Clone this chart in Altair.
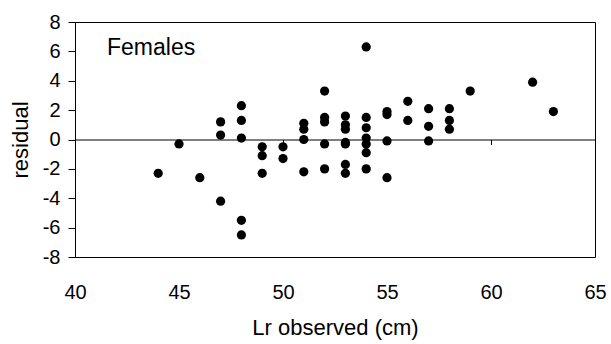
import altair as alt
import pandas as pd

lr_observed = [44, 45, 46, 47, 47, 47, 48, 48, 48, 48, 48, 49, 49, 49, 50, 50,
               51, 51, 51, 51, 52, 52, 52, 52, 52, 53, 53, 53, 53, 53, 53, 53,
               54, 54, 54, 54, 54, 54, 54, 55, 55, 55, 55, 56, 56, 57, 57, 57,
               58, 58, 58, 59, 62, 63]
residual = [-2.3, -0.3, -2.6, 1.2, 0.3, -4.2, 2.3, 1.3, 0.1, -5.5, -6.5,
            -0.5, -1.1, -2.3, -0.5, -1.3, 1.1, 0.7, 0.0, -2.2,
            3.3, 1.5, 1.2, -0.3, -2.0, 1.6, 1.0, 0.7, -0.2, -0.3, -1.7, -2.3,
            6.3, 1.5, 0.8, 0.1, -0.3, -0.9, -2.0, 1.9, 1.7, -0.1, -2.6,
            2.6, 1.3, 2.1, 0.9, -0.1, 2.1, 1.3, 0.7, 3.3, 3.9, 1.9]
x_ticks = [40, 45, 50, 55, 60, 65]
y_ticks = [-8, -6, -4, -2, 0, 2, 4, 6, 8]
panel_label = ["Females"]

df = pd.DataFrame({"x": lr_observed, "y": residual})
FONT = "Liberation Sans"
W, H = 520, 235
common = dict(labelFont=FONT, titleFont=FONT, labelFontSize=20,
              titleFontSize=22, titleFontWeight="normal", labelColor="black",
              titleColor="black", tickColor="black", domainColor="black",
              grid=False, labelFlush=False, labelOverlap=False,
              labelExpr="'' + datum.value")

points = alt.Chart(df).mark_circle(size=85, color="black", opacity=1).encode(
    x=alt.X("x:Q", scale=alt.Scale(domain=[40, 65], nice=False),
            axis=alt.Axis(values=x_ticks, title="Lr observed (cm)",
                          offset=-H / 2, tickSize=5,
                          labelPadding=H / 2 + 20, titlePadding=15, **common)),
    y=alt.Y("y:Q", scale=alt.Scale(domain=[-8, 8], nice=False),
            axis=alt.Axis(values=y_ticks, title="residual", tickSize=7,
                          labelPadding=8, titlePadding=10, **common)),
)

label = alt.Chart(pd.DataFrame({"t": panel_label})).mark_text(
    align="left", baseline="alphabetic", font=FONT, fontSize=23, color="black"
).encode(x=alt.value(32), y=alt.value(33), text="t:N")

chart = alt.layer(points, label).properties(
    width=W, height=H,
    autosize=alt.AutoSizeParams(type="none"),
    padding={"left": 75, "top": 22, "right": 16, "bottom": 87},
    background="white",
).configure_view(stroke="black", strokeWidth=1)

chart.save("out.html", embed_options={"renderer": "svg", "actions": False})
